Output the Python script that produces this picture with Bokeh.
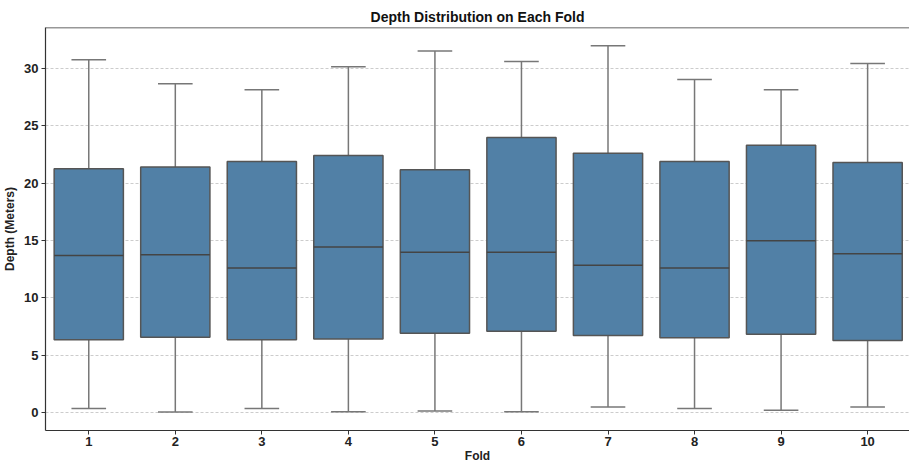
from bokeh.plotting import figure
from bokeh.models import ColumnDataSource, FixedTicker, Range1d, Span
from bokeh.embed import file_html
from bokeh.resources import INLINE

folds = [1, 2, 3, 4, 5, 6, 7, 8, 9, 10]
whisker_low = [0.35, 0.05, 0.35, 0.06, 0.14, 0.06, 0.49, 0.35, 0.20, 0.49]
q1 = [6.34, 6.57, 6.34, 6.40, 6.92, 7.09, 6.72, 6.51, 6.83, 6.28]
median = [13.69, 13.75, 12.59, 14.42, 13.98, 13.98, 12.85, 12.59, 14.97, 13.84]
q3 = [21.25, 21.40, 21.89, 22.41, 21.16, 23.98, 22.61, 21.89, 23.31, 21.80]
whisker_high = [30.75, 28.66, 28.14, 30.14, 31.51, 30.61, 31.97, 29.04, 28.14, 30.44]
y_ticks = [0, 5, 10, 15, 20, 25, 30]

box_w = 0.8
cap_w = 0.4
FONT = "Liberation Sans"

src = ColumnDataSource(dict(
    x=folds, lo=whisker_low, q1=q1, med=median, q3=q3, hi=whisker_high,
    bl=[f - box_w / 2 for f in folds], br=[f + box_w / 2 for f in folds],
    cl=[f - cap_w / 2 for f in folds], cr=[f + cap_w / 2 for f in folds],
))

Y0, Y1 = -1.57, 33.57
p = figure(width=909, height=465, output_backend="svg", toolbar_location=None,
           x_range=Range1d(0.5, 10.484), y_range=Range1d(Y0, Y1),
           title="Depth Distribution on Each Fold",
           min_border_left=10, min_border_right=0, min_border_top=27, min_border_bottom=10)

p.title.text_font = FONT
p.title.text_font_size = "14px"
p.title.text_font_style = "bold"
p.title.text_color = "#111111"
p.title.align = "center"
p.title.standoff = 6
p.outline_line_color = None

# whiskers
p.segment(x0="x", y0="q3", x1="x", y1="hi", source=src, line_color="#777777", line_width=1.5)
p.segment(x0="x", y0="lo", x1="x", y1="q1", source=src, line_color="#777777", line_width=1.5)
p.segment(x0="cl", y0="hi", x1="cr", y1="hi", source=src, line_color="#777777", line_width=1.5)
p.segment(x0="cl", y0="lo", x1="cr", y1="lo", source=src, line_color="#777777", line_width=1.5)
# boxes
p.vbar(x="x", width=box_w, bottom="q1", top="q3", source=src,
       fill_color="#5180a6", line_color="#555555", line_width=1.5)
p.segment(x0="bl", y0="med", x1="br", y1="med", source=src, line_color="#444444", line_width=1.5)

# top spine
p.add_layout(Span(location=Y1, dimension="width", line_color="#333333", line_width=1.5))

p.xaxis.ticker = FixedTicker(ticks=folds)
p.yaxis.ticker = FixedTicker(ticks=y_ticks)
p.xgrid.grid_line_color = None
p.ygrid.grid_line_color = "#cccccc"
p.ygrid.grid_line_dash = "3 2"
p.ygrid.grid_line_width = 1

for ax in (p.xaxis[0], p.yaxis[0]):
    ax.axis_line_color = "#333333"
    ax.axis_line_width = 1.2
    ax.major_tick_line_color = "#333333"
    ax.major_tick_out = 4
    ax.major_tick_in = 0
    ax.minor_tick_line_color = None
    ax.major_label_text_font = FONT
    ax.major_label_text_font_style = "bold"
    ax.major_label_text_font_size = "13px"
    ax.major_label_text_color = "#222222"
    ax.axis_label_text_font = FONT
    ax.axis_label_text_font_style = "bold"
    ax.axis_label_text_font_size = "12px"
    ax.axis_label_text_color = "#222222"

p.xaxis.major_label_standoff = 2
p.xaxis.axis_label_standoff = 0
p.yaxis.major_label_standoff = 3
p.yaxis.axis_label_standoff = 4

p.xaxis.axis_label = "Fold"
p.yaxis.axis_label = "Depth (Meters)"

open("out.html", "w").write(file_html(p, INLINE))
